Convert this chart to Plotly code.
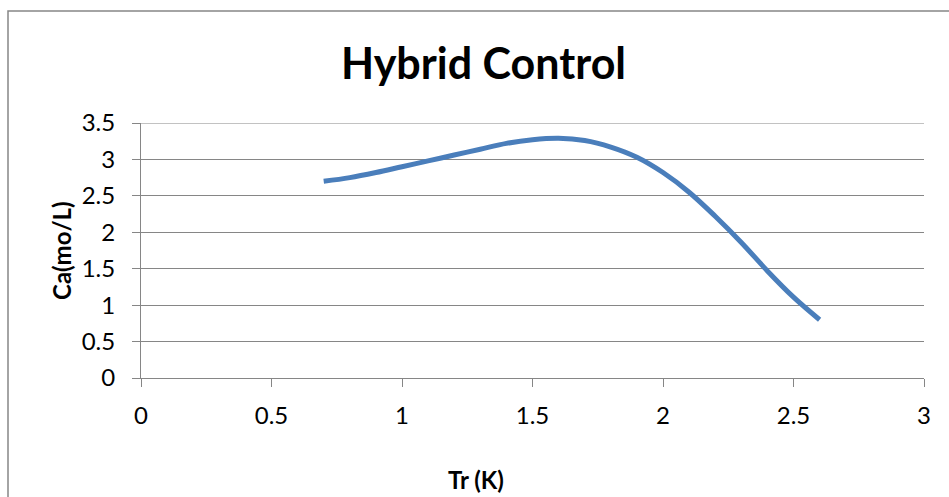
import plotly.graph_objects as go

# Data
tr_k = [0.7, 0.8, 0.9, 1.0, 1.1, 1.2, 1.3, 1.4, 1.5, 1.6, 1.7, 1.8, 1.9, 2.0, 2.1, 2.2, 2.3, 2.4, 2.5, 2.6]
ca = [2.70, 2.75, 2.82, 2.90, 2.98, 3.06, 3.14, 3.22, 3.27, 3.29, 3.26, 3.17, 3.03, 2.82, 2.55, 2.22, 1.86, 1.47, 1.11, 0.80]

x_ticks = [0, 0.5, 1, 1.5, 2, 2.5, 3]
x_tick_labels = ["0", "0.5", "1", "1.5", "2", "2.5", "3"]
y_ticks = [0, 0.5, 1, 1.5, 2, 2.5, 3, 3.5]
y_tick_labels = ["0", "0.5", "1", "1.5", "2", "2.5", "3", "3.5"]

title_text = "Hybrid Control"
x_title = "Tr (K)"
y_title = "Ca(mo/L)"

W, H = 949, 497
L, R, T, B = 141, 25, 123, 119
pw, ph = W - L - R, H - T - B

def px_x(px):
    return (px - L) / pw

def px_y(py):
    return (H - B - py) / ph

FONT = "Lato, Carlito, Calibri, sans-serif"
GRID = "#868686"

fig = go.Figure()
fig.add_trace(go.Scatter(
    x=tr_k, y=ca, mode="lines",
    line=dict(color="#4a7ebb", width=5, shape="spline", smoothing=1.0),
    showlegend=False, hoverinfo="skip",
))

axis_common = dict(
    showline=True, linecolor=GRID, linewidth=1,
    ticks="outside", ticklen=8, tickcolor=GRID, tickwidth=1,
    tickfont=dict(family=FONT, size=24, color="#000000"),
    zeroline=False,
)

fig.update_xaxes(
    range=[0, 3], tickvals=x_ticks, ticktext=x_tick_labels,
    showgrid=False, ticklabelstandoff=8, **axis_common,
)
fig.update_yaxes(
    range=[0, 3.5], tickvals=y_ticks, ticktext=y_tick_labels,
    showgrid=True, gridcolor=GRID, gridwidth=1, ticklabelstandoff=12, **axis_common,
)

fig.update_layout(
    width=W, height=H,
    margin=dict(l=L, r=R, t=T, b=B),
    paper_bgcolor="white", plot_bgcolor="white",
    font=dict(family=FONT, color="#000000"),
    shapes=[
        dict(type="rect", xref="paper", yref="paper",
             x0=px_x(8), x1=px_x(980), y0=px_y(560), y1=px_y(11),
             line=dict(color=GRID, width=1.5), fillcolor="rgba(0,0,0,0)", layer="below"),
        dict(type="line", xref="paper", yref="y",
             x0=px_x(133), x1=1, y0=3.5, y1=3.5,
             line=dict(color=GRID, width=1), layer="below"),
    ],
    annotations=[
        dict(text="<b>" + title_text + "</b>", xref="paper", yref="paper",
             x=px_x(483), y=px_y(63), xanchor="center", yanchor="middle",
             showarrow=False, font=dict(family=FONT, size=43, color="#000000")),
        dict(text="<b>" + x_title + "</b>", xref="paper", yref="paper",
             x=px_x(476), y=px_y(479), xanchor="center", yanchor="middle",
             showarrow=False, font=dict(family=FONT, size=24, color="#000000")),
        dict(text="<b>" + y_title + "</b>", xref="paper", yref="paper",
             x=px_x(61), y=px_y(251), xanchor="center", yanchor="middle",
             textangle=-90, showarrow=False,
             font=dict(family=FONT, size=24, color="#000000")),
    ],
)

fig.write_html("out.html")
